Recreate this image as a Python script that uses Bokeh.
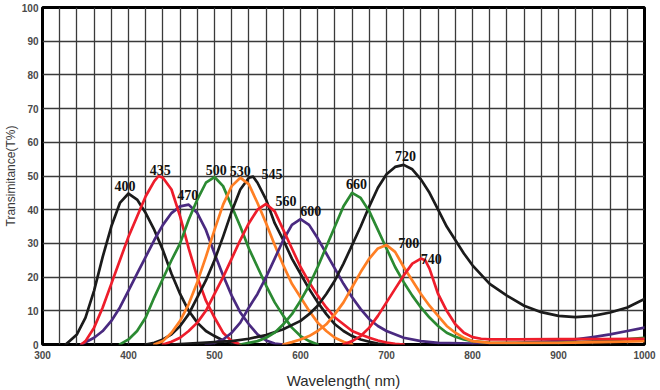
from bokeh.plotting import figure
from bokeh.models import Range1d, FixedTicker
from bokeh.core.properties import value
from bokeh.embed import file_html
from bokeh.resources import INLINE

# ---- data (wavelength nm, transmittance %) ----
wl_400 = [327, 340, 350, 360, 370, 380, 390, 400, 410, 420, 430, 440, 450, 460, 470, 480, 490, 500, 510, 520, 530]
t_400 = [0, 3, 8, 16, 26, 35, 42, 44.8, 43, 39, 34, 28, 21, 15, 10, 6.5, 4, 2.5, 1.2, 0.5, 0]

wl_435 = [345, 350, 360, 370, 380, 390, 400, 410, 420, 430, 435, 440, 450, 460, 470, 480, 490, 500, 510, 520, 530]
t_435 = [0, 1, 5, 11, 18, 25, 32, 38, 44, 48.5, 50, 49.5, 46, 38, 28.5, 20, 13, 8, 3.5, 1, 0]

wl_470 = [345, 360, 370, 380, 390, 400, 410, 420, 430, 440, 450, 460, 470, 480, 490, 500, 510, 520, 530, 540, 550, 560, 570, 580]
t_470 = [0, 2, 4, 7, 11, 16, 21, 26, 31, 35.5, 39, 41, 41.5, 39, 34, 27, 20.5, 14.5, 9.5, 6, 3, 1.2, 0.3, 0]

wl_500 = [390, 400, 410, 420, 430, 440, 450, 460, 470, 480, 490, 500, 510, 520, 530, 540, 550, 560, 570, 580, 590, 600, 610, 620]
t_500 = [0, 1.5, 4, 8, 14, 19.5, 25, 30, 37, 43, 48, 49.7, 47, 41, 35, 28.5, 23, 17.5, 12.5, 8.5, 5, 2.5, 1, 0]

wl_530 = [430, 440, 450, 460, 470, 480, 490, 500, 510, 520, 530, 540, 550, 560, 570, 580, 590, 600, 610, 620, 630, 640, 650, 660]
t_530 = [0, 1, 3.5, 7, 12, 18.5, 26, 34, 41.5, 47, 49.5, 47.5, 42, 36, 29.5, 23.5, 18, 14, 10, 6.5, 4, 2, 0.8, 0]

wl_545 = [420, 430, 440, 450, 460, 470, 480, 490, 500, 510, 520, 530, 540, 545, 550, 560, 570, 580, 590, 600, 610, 620, 630, 640, 650, 660, 670, 680, 690, 700]
t_545 = [0, 0.5, 1.5, 3, 5.5, 9, 14, 19, 25, 32, 39.5, 46, 49.5, 49.8, 48, 43, 36, 31, 25.5, 21, 16.5, 12.5, 9, 6, 4, 2.5, 1.5, 0.8, 0.3, 0]

wl_560 = [440, 450, 460, 470, 480, 490, 500, 510, 520, 530, 540, 550, 560, 570, 580, 590, 600, 610, 620, 630, 640, 650, 660, 670, 680, 690, 700, 710, 720]
t_560 = [0, 0.8, 2, 4, 6.5, 10, 15, 20, 25.5, 31, 36, 40, 41.7, 39.5, 34, 28.5, 23, 18.5, 14.5, 11, 8, 6, 4, 3, 2, 1.2, 0.6, 0.2, 0]

wl_600 = [490, 500, 510, 520, 530, 540, 550, 560, 570, 580, 590, 600, 610, 620, 630, 640, 650, 660, 670, 680, 690, 700, 720, 740, 760, 800, 850, 900, 920, 940, 960, 980, 1000]
t_600 = [0, 0.5, 1.5, 3.5, 6.5, 11, 15, 20, 25.5, 31, 35.5, 37.2, 35.5, 31.5, 27, 22.5, 18, 14, 10.5, 7.5, 5.5, 4, 2, 1, 0.5, 0.3, 0.5, 1, 1.5, 2.2, 3, 4, 5]

wl_660 = [530, 540, 550, 560, 570, 580, 590, 600, 610, 620, 630, 640, 650, 660, 670, 680, 690, 700, 710, 720, 730, 740, 750, 760, 770, 780, 790, 800, 820, 850, 900, 950, 1000]
t_660 = [0, 0.5, 1, 2, 3.5, 6, 9, 13, 17.5, 23, 29, 35, 41, 45, 43.5, 39.5, 34, 28.5, 23, 18.5, 14.5, 11, 8, 5.5, 3.5, 2.3, 1.5, 1, 0.5, 0.4, 0.5, 1, 2]

wl_720 = [450, 480, 500, 520, 540, 560, 580, 600, 610, 620, 630, 640, 650, 660, 670, 680, 690, 700, 710, 720, 730, 740, 750, 760, 770, 780, 790, 800, 820, 840, 860, 880, 900, 920, 940, 960, 980, 1000]
t_720 = [0, 0.4, 0.7, 1, 1.7, 2.8, 4.5, 7, 9, 11.5, 15, 19, 24, 29.5, 35, 41, 46.5, 50.5, 52.7, 53.3, 52, 49, 45, 40, 35, 31, 27, 23.5, 18, 14.5, 11.5, 9.6, 8.5, 8.1, 8.5, 9.5, 11, 13.5]

wl_700 = [580, 590, 600, 610, 620, 630, 640, 650, 660, 670, 680, 690, 700, 710, 720, 730, 740, 750, 760, 770, 780, 790, 800, 820, 900, 950, 1000]
t_700 = [0, 0.7, 1.5, 2.5, 4, 6, 9, 12.5, 17, 21.5, 25.5, 28.5, 29.5, 27.5, 23, 19, 15, 11.5, 8.5, 5.5, 3.5, 2, 1, 0.5, 0.5, 0.7, 1]

wl_740 = [650, 660, 670, 680, 690, 700, 710, 720, 730, 740, 745, 750, 760, 770, 780, 790, 800, 810, 820, 850, 900, 950, 1000]
t_740 = [0, 1, 2.5, 5, 8.5, 12.5, 16.5, 20.5, 24, 25.5, 25, 22.5, 15, 10, 6, 3.5, 2.2, 1.7, 1.5, 1.5, 1.6, 1.6, 1.7]

label_text = ["400", "435", "470", "500", "530", "545", "560", "600", "660", "720", "700", "740"]
label_x = [396, 437, 469, 502, 530, 567, 583, 612, 665, 722, 726, 752]
label_y = [47.1, 51.9, 44.4, 51.9, 51.6, 50.7, 42.7, 39.7, 47.7, 56, 30.2, 25.5]

x_ticks = [300, 400, 500, 600, 700, 800, 900, 1000]
y_ticks = [0, 10, 20, 30, 40, 50, 60, 70, 80, 90, 100]

BLACK = "#1b1b1b"
RED = "#ee1d2b"
PURPLE = "#4a2a80"
GREEN = "#2b8a32"
ORANGE = "#ff7f24"

curves = [
    (wl_400, t_400, BLACK),
    (wl_470, t_470, PURPLE),
    (wl_435, t_435, RED),
    (wl_500, t_500, GREEN),
    (wl_545, t_545, BLACK),
    (wl_530, t_530, ORANGE),
    (wl_600, t_600, PURPLE),
    (wl_560, t_560, RED),
    (wl_720, t_720, BLACK),
    (wl_660, t_660, GREEN),
    (wl_700, t_700, ORANGE),
    (wl_740, t_740, RED),
]

p = figure(
    output_backend="svg", toolbar_location=None,
    frame_width=602, frame_height=337,
    min_border_left=40, min_border_right=14, min_border_top=7, min_border_bottom=46,
    x_range=Range1d(300, 1000), y_range=Range1d(0, 100),
    background_fill_color="white", border_fill_color="white",
)

p.xgrid.ticker = FixedTicker(ticks=list(range(300, 1001, 20)))
p.ygrid.ticker = FixedTicker(ticks=y_ticks)
for g in (p.xgrid, p.ygrid):
    g.grid_line_color = "#3a3a3a"
    g.grid_line_width = 1.3

p.xaxis.ticker = FixedTicker(ticks=x_ticks)
p.yaxis.ticker = FixedTicker(ticks=y_ticks)
for ax in (p.xaxis, p.yaxis):
    ax.axis_line_color = None
    ax.major_tick_line_color = None
    ax.minor_tick_line_color = None
    ax.major_tick_out = 0
    ax.major_tick_in = 0
    ax.minor_tick_out = 0
    ax.minor_tick_in = 0
    ax.major_label_text_font = "Liberation Sans"
    ax.major_label_text_font_size = "10px"
    ax.major_label_text_font_style = "bold"
    ax.major_label_text_color = "#4a4a4a"
p.xaxis.major_label_standoff = 6
p.yaxis.major_label_standoff = 4

p.xaxis.axis_label = "Wavelength( nm)"
p.xaxis.axis_label_text_font = "Liberation Sans"
p.xaxis.axis_label_text_font_size = "15px"
p.xaxis.axis_label_text_font_style = "normal"
p.xaxis.axis_label_text_color = "#2a2a2a"
p.xaxis.axis_label_standoff = 10

p.yaxis.axis_label = "Transimitance(T%)"
p.yaxis.axis_label_text_font = "Liberation Sans"
p.yaxis.axis_label_text_font_size = "12px"
p.yaxis.axis_label_text_font_style = "normal"
p.yaxis.axis_label_text_color = "#3a3a3a"
p.yaxis.axis_label_standoff = 1

p.outline_line_color = "black"
p.outline_line_width = 3

for wl, t, c in curves:
    p.line(wl, t, line_color=c, line_width=2.7, line_join="round", line_cap="round")

p.text(x=label_x, y=label_y, text=label_text, text_font=value("Liberation Serif"),
       text_font_style="bold", text_font_size="14px", text_color="#111111",
       text_align="center", text_baseline="middle")

html = file_html(p, INLINE)
open("out.html", "w").write(html)
